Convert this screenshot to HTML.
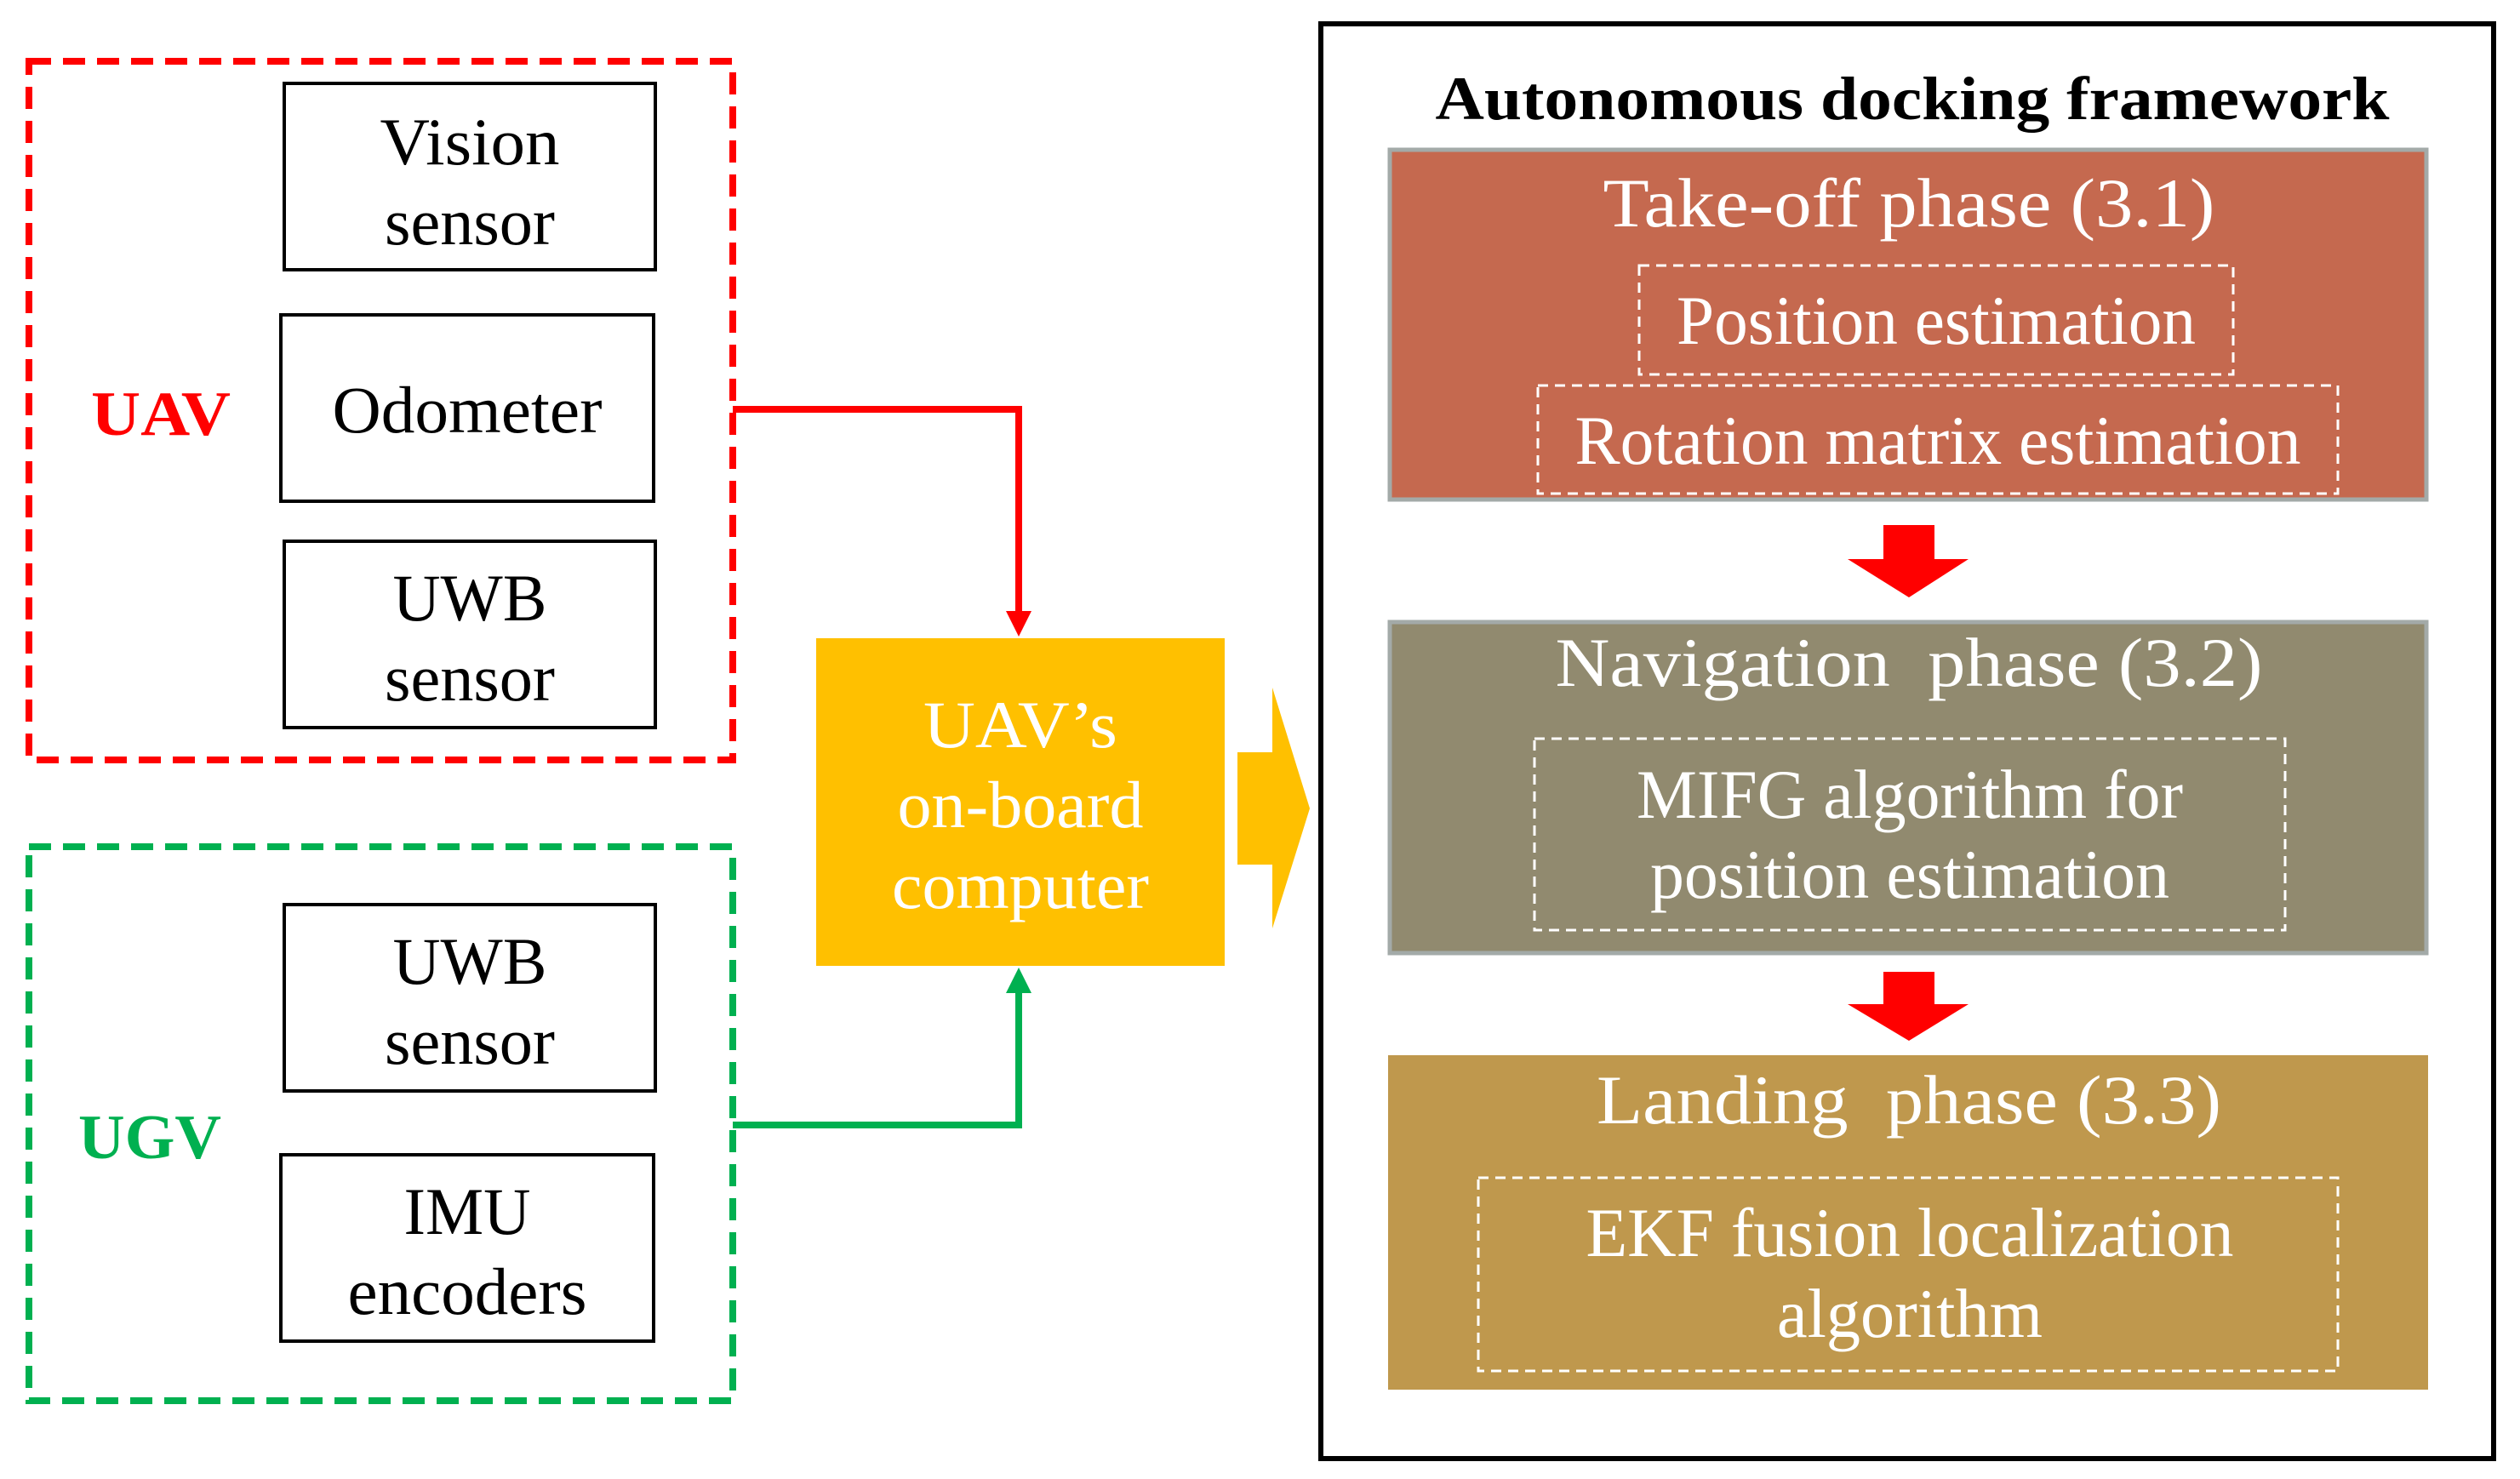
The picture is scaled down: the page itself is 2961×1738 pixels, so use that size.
<!DOCTYPE html>
<html><head><meta charset="utf-8"><style>html,body{margin:0;padding:0;background:#fff}svg{display:block}</style></head>
<body>
<svg width="2961" height="1738" viewBox="0 0 2961 1738" xmlns="http://www.w3.org/2000/svg" font-family="Liberation Serif, serif">
<rect width="2961" height="1738" fill="#fff"/>
<!-- UAV group -->
<rect x="34" y="72" width="827" height="821" fill="none" stroke="#ff0000" stroke-width="8" stroke-dasharray="26,14"/>
<rect x="334" y="98" width="436" height="219" fill="none" stroke="#000" stroke-width="4"/>
<rect x="330" y="370" width="438" height="219" fill="none" stroke="#000" stroke-width="4"/>
<rect x="334" y="636" width="436" height="219" fill="none" stroke="#000" stroke-width="4"/>
<g font-size="78" text-anchor="middle" fill="#000">
<text x="552" y="193" textLength="211" lengthAdjust="spacingAndGlyphs">Vision</text><text x="552" y="287" textLength="200" lengthAdjust="spacingAndGlyphs">sensor</text>
<text x="549" y="508" textLength="317" lengthAdjust="spacingAndGlyphs">Odometer</text>
<text x="552" y="729" textLength="181" lengthAdjust="spacingAndGlyphs">UWB</text><text x="552" y="823" textLength="200" lengthAdjust="spacingAndGlyphs">sensor</text>
<text x="552" y="1156" textLength="181" lengthAdjust="spacingAndGlyphs">UWB</text><text x="552" y="1250" textLength="200" lengthAdjust="spacingAndGlyphs">sensor</text>
<text x="549" y="1450" textLength="149" lengthAdjust="spacingAndGlyphs">IMU</text><text x="549" y="1544" textLength="281" lengthAdjust="spacingAndGlyphs">encoders</text>
</g>
<text x="189" y="511" font-size="74" font-weight="bold" fill="#ff0000" text-anchor="middle" textLength="164" lengthAdjust="spacingAndGlyphs">UAV</text>
<!-- UGV group -->
<rect x="34" y="995" width="827" height="651" fill="none" stroke="#00b050" stroke-width="8" stroke-dasharray="26,14"/>
<rect x="334" y="1063" width="436" height="219" fill="none" stroke="#000" stroke-width="4"/>
<rect x="330" y="1357" width="438" height="219" fill="none" stroke="#000" stroke-width="4"/>
<text x="176" y="1361" font-size="74" font-weight="bold" fill="#00b050" text-anchor="middle" textLength="168" lengthAdjust="spacingAndGlyphs">UGV</text>
<!-- connectors -->
<polyline points="861,481 1197,481 1197,725" fill="none" stroke="#ff0000" stroke-width="8"/>
<polygon points="1182,718 1212,718 1197,748" fill="#ff0000"/>
<polyline points="861,1322 1197,1322 1197,1160" fill="none" stroke="#00b050" stroke-width="8"/>
<polygon points="1182,1167 1212,1167 1197,1137" fill="#00b050"/>
<!-- computer -->
<rect x="959" y="750" width="480" height="385" fill="#ffc000"/>
<g font-size="78" text-anchor="middle" fill="#fff">
<text x="1199" y="878" textLength="228" lengthAdjust="spacingAndGlyphs">UAV’s</text><text x="1199" y="972" textLength="289" lengthAdjust="spacingAndGlyphs">on-board</text><text x="1199" y="1067" textLength="302" lengthAdjust="spacingAndGlyphs">computer</text>
</g>
<polygon points="1454,884 1495,884 1495,808 1539,950 1495,1091 1495,1016 1454,1016" fill="#ffc000"/>
<!-- framework -->
<rect x="1552" y="28" width="1378" height="1686" fill="none" stroke="#000" stroke-width="6"/>
<text x="2247" y="140" font-size="72" font-weight="bold" text-anchor="middle" textLength="1121" lengthAdjust="spacingAndGlyphs">Autonomous docking framework</text>
<rect x="1633" y="176" width="1218" height="411" fill="#c5694f" stroke="#a3aaa8" stroke-width="5"/>
<rect x="1926" y="312" width="698" height="128" fill="none" stroke="#fff" stroke-width="3" stroke-dasharray="12,8"/>
<rect x="1807" y="453" width="940" height="127" fill="none" stroke="#fff" stroke-width="3" stroke-dasharray="12,8"/>
<rect x="1633" y="731" width="1218" height="389" fill="#918a6f" stroke="#a3aaa8" stroke-width="5"/>
<rect x="1803" y="868" width="882" height="225" fill="none" stroke="#fff" stroke-width="3" stroke-dasharray="12,8"/>
<rect x="1631" y="1240" width="1222" height="393" fill="#bf984d"/>
<rect x="1737" y="1384" width="1010" height="227" fill="none" stroke="#fff" stroke-width="3" stroke-dasharray="12,8"/>
<polygon points="2213,617 2273,617 2273,657 2313,657 2243,702 2171,657 2213,657" fill="#ff0000"/>
<polygon points="2213,1142 2273,1142 2273,1180 2313,1180 2243,1223 2171,1180 2213,1180" fill="#ff0000"/>
<g font-size="82" text-anchor="middle" fill="#fff">
<text x="2243" y="266" textLength="719" lengthAdjust="spacingAndGlyphs">Take-off phase (3.1)</text>
<text x="2275" y="404" textLength="610" lengthAdjust="spacingAndGlyphs">Position estimation</text>
<text x="2277" y="545" textLength="853" lengthAdjust="spacingAndGlyphs">Rotation matrix estimation</text>
<text x="2243" y="806" xml:space="preserve" textLength="831" lengthAdjust="spacingAndGlyphs">Navigation  phase (3.2)</text>
<text x="2244" y="961" textLength="642" lengthAdjust="spacingAndGlyphs">MIFG algorithm for</text>
<text x="2244" y="1055" textLength="610" lengthAdjust="spacingAndGlyphs">position estimation</text>
<text x="2243" y="1320" xml:space="preserve" textLength="734" lengthAdjust="spacingAndGlyphs">Landing  phase (3.3)</text>
<text x="2244" y="1476" textLength="761" lengthAdjust="spacingAndGlyphs">EKF fusion localization</text>
<text x="2244" y="1571" textLength="312" lengthAdjust="spacingAndGlyphs">algorithm</text>
</g>
</svg>
</body></html>
